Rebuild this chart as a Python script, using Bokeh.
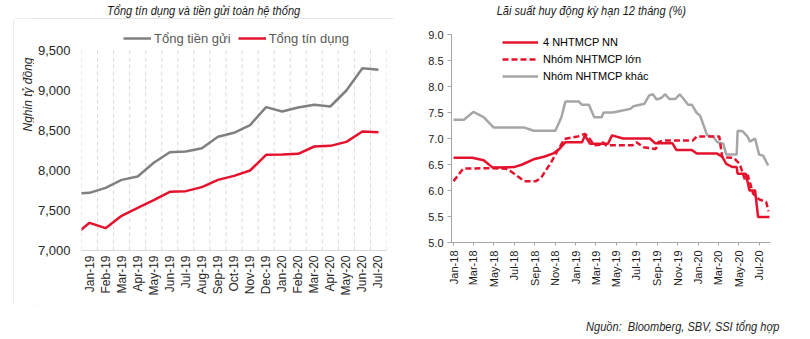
from math import pi
import pandas as pd
from bokeh.plotting import figure
from bokeh.layouts import row, column
from bokeh.models import (Range1d, FixedTicker, NumeralTickFormatter, DatetimeTickFormatter,
                          Legend, LegendItem, Label, Div)
from bokeh.embed import file_html
from bokeh.resources import INLINE

# ---------------- Left chart data ----------------
months_left = ["Dec-18", "Jan-19", "Feb-19", "Mar-19", "Apr-19", "May-19", "Jun-19", "Jul-19",
               "Aug-19", "Sep-19", "Oct-19", "Nov-19", "Dec-19", "Jan-20", "Feb-20", "Mar-20",
               "Apr-20", "May-20", "Jun-20", "Jul-20"]
tong_tien_gui = [7713, 7721, 7783, 7883, 7925, 8096, 8229, 8238, 8279, 8421, 8471, 8567,
                 8792, 8738, 8788, 8821, 8800, 9000, 9279, 9258]
tong_tin_dung = [7178, 7346, 7279, 7433, 7533, 7629, 7733, 7742, 7792, 7883, 7933, 8000,
                 8196, 8200, 8208, 8300, 8308, 8358, 8488, 8479]
left_yticks = [7000, 7500, 8000, 8500, 9000, 9500]

# ---------------- Right chart data ----------------
nn_dates = ["2018-01-01", "2018-02-26", "2018-04-01", "2018-04-28", "2018-07-01", "2018-07-25",
            "2018-08-28", "2018-09-28", "2018-10-28", "2018-11-13", "2018-12-01", "2019-01-20",
            "2019-01-28", "2019-02-12", "2019-04-07", "2019-04-19", "2019-05-22", "2019-08-10",
            "2019-08-25", "2019-10-16", "2019-10-28", "2019-12-13", "2019-12-28", "2020-02-27",
            "2020-03-13", "2020-03-25", "2020-04-13", "2020-04-25", "2020-04-28", "2020-05-22",
            "2020-05-28", "2020-06-02", "2020-06-19", "2020-06-28", "2020-08-01"]
nn_vals = [6.63, 6.63, 6.58, 6.44, 6.45, 6.50,
           6.60, 6.65, 6.72, 6.80, 6.93, 6.93,
           7.06, 6.90, 6.90, 7.06, 7.00, 7.00,
           6.91, 6.91, 6.78, 6.78, 6.71, 6.71,
           6.65, 6.51, 6.45, 6.45, 6.32, 6.32,
           6.16, 6.00, 6.00, 5.49, 5.49]

lon_dates = ["2018-01-01", "2018-01-30", "2018-04-22", "2018-06-07", "2018-06-25", "2018-08-01",
             "2018-09-04", "2018-09-19", "2018-10-19", "2018-11-07", "2018-11-28", "2019-01-07",
             "2019-01-28", "2019-02-07", "2019-02-25", "2019-03-16", "2019-03-22", "2019-04-01",
             "2019-06-19", "2019-07-01", "2019-07-22", "2019-08-28", "2019-09-04", "2019-09-19",
             "2019-12-16", "2019-12-28", "2020-03-04", "2020-03-13", "2020-04-16", "2020-05-04",
             "2020-05-19", "2020-05-28", "2020-06-13", "2020-07-01", "2020-07-22", "2020-07-29"]
lon_vals = [6.18, 6.42, 6.43, 6.42, 6.35, 6.18,
            6.18, 6.24, 6.54, 6.76, 6.99, 7.04,
            7.09, 7.03, 6.87, 6.88, 6.93, 6.87,
            6.87, 6.93, 6.83, 6.80, 6.93, 6.96,
            6.96, 7.04, 7.04, 6.64, 6.63, 6.51,
            6.22, 6.30, 5.94, 5.83, 5.78, 5.60]

khac_dates = ["2018-01-01", "2018-02-01", "2018-03-01", "2018-04-01", "2018-05-01", "2018-08-01",
              "2018-08-28", "2018-11-01", "2018-11-19", "2018-12-01", "2019-01-10", "2019-01-19",
              "2019-02-09", "2019-02-25", "2019-03-19", "2019-03-25", "2019-04-22", "2019-05-13",
              "2019-06-13", "2019-06-22", "2019-07-25", "2019-08-08", "2019-08-19", "2019-08-30",
              "2019-09-13", "2019-09-25", "2019-10-07", "2019-10-25", "2019-11-07", "2019-11-19",
              "2019-12-02", "2019-12-13", "2019-12-28", "2020-01-07", "2020-01-28", "2020-02-15",
              "2020-02-27", "2020-03-16", "2020-03-25", "2020-04-25", "2020-04-28", "2020-05-13",
              "2020-05-28", "2020-06-04", "2020-06-19", "2020-07-01", "2020-07-13", "2020-07-28"]
khac_vals = [7.36, 7.36, 7.51, 7.41, 7.21, 7.21,
             7.15, 7.15, 7.41, 7.71, 7.71, 7.65,
             7.65, 7.41, 7.41, 7.50, 7.50, 7.53,
             7.57, 7.62, 7.67, 7.83, 7.85, 7.75,
             7.78, 7.85, 7.76, 7.76, 7.85, 7.76,
             7.65, 7.65, 7.49, 7.44, 7.06, 7.04,
             6.93, 6.90, 6.69, 6.69, 7.15, 7.14,
             7.03, 6.94, 7.00, 6.69, 6.67, 6.48]

right_tick_labels = ["Jan-18", "Mar-18", "May-18", "Jul-18", "Sep-18", "Nov-18", "Jan-19",
                     "Mar-19", "May-19", "Jul-19", "Sep-19", "Nov-19", "Jan-20", "Mar-20",
                     "May-20", "Jul-20"]
right_yticks = [5.0, 5.5, 6.0, 6.5, 7.0, 7.5, 8.0, 8.5, 9.0]

left_title = "Tổng tín dụng và tiền gửi toàn hệ thống"
left_ylabel = "Nghin tỷ đồng"
right_title = "Lãi suất huy động kỳ hạn 12 tháng (%)"
source_note = "Nguồn:&nbsp; Bloomberg, SBV, SSI tổng hợp"

RED = "#e5122d"
GRAY_L = "#808080"
GRAY_R = "#a6a6a6"
FONT = "Liberation Sans"
CSS_FONT = "'Liberation Sans', Arial, sans-serif"


def text_div(txt, width, height, inner_width, align, pad_top, color="#1a1a1a"):
    html = (f'<div style="width:{inner_width}px; text-align:{align}; padding-top:{pad_top}px; '
            f'line-height:16px; font-family:{CSS_FONT}; font-style:italic; font-size:13px; '
            f'color:{color}; white-space:nowrap;">'
            f'<span style="display:inline-block; transform:scaleX(0.85); '
            f'transform-origin:{"right" if align == "right" else "center"};">{txt}</span></div>')
    return Div(text=html, width=width, height=height, margin=0)


# ================= Left: y-axis title strip =================
yfig = figure(width=21, height=288, output_backend="svg", toolbar_location=None,
              x_range=Range1d(0, 1), y_range=Range1d(0, 1), min_border=0,
              x_axis_location=None, y_axis_location=None)
yfig.frame_align = False
yfig.outline_line_color = None
yfig.grid.visible = False
yfig.add_layout(Label(x=14, y=212, x_units="screen", y_units="screen", angle=pi / 2,
                      text=left_ylabel, text_align="center", text_baseline="middle",
                      text_font=FONT, text_font_style="italic", text_font_size="12px",
                      text_color="#262626"))

# ================= Left figure =================
y_top = left_yticks[-1] + (left_yticks[-1] - left_yticks[0]) * 24 / 200
p1 = figure(width=361, height=288, output_backend="svg", toolbar_location=None,
            x_range=Range1d(0.5, 19.5), y_range=Range1d(left_yticks[0], y_top),
            min_border_left=44, min_border_right=9, min_border_top=8, min_border_bottom=56)
p1.frame_align = False
p1.outline_line_color = None
p1.grid.visible = False

x_idx = list(range(len(months_left)))
bounds = [i + 0.5 for i in x_idx]
p1.segment(x0=bounds, y0=[left_yticks[0]] * len(bounds), x1=bounds,
           y1=[left_yticks[-1]] * len(bounds), line_color="#d9d9d9", line_width=1,
           line_dash="4 3")
r_gui = p1.line(x_idx, tong_tien_gui, line_color=GRAY_L, line_width=2.5)
r_td = p1.line(x_idx, tong_tin_dung, line_color=RED, line_width=2.5)

p1.xaxis.ticker = FixedTicker(ticks=x_idx[1:])
p1.xaxis.major_label_overrides = {i: m for i, m in enumerate(months_left)}
p1.xaxis.major_label_orientation = pi / 2
p1.xaxis.axis_line_color = "#d9d9d9"
p1.xaxis.major_label_standoff = 5
p1.xaxis.major_label_text_font = FONT
p1.xaxis.major_label_text_font_size = "12px"
p1.xaxis.major_label_text_color = "#262626"

p1.yaxis.ticker = FixedTicker(ticks=left_yticks)
p1.yaxis.formatter = NumeralTickFormatter(format="0,0")
p1.yaxis.axis_line_color = None
p1.yaxis.major_label_standoff = 11
p1.yaxis.major_label_text_font = FONT
p1.yaxis.major_label_text_font_size = "13px"
p1.yaxis.major_label_text_color = "#262626"
for ax in (p1.xaxis, p1.yaxis):
    ax.major_tick_line_color = None
    ax.minor_tick_line_color = None
    ax.major_tick_in = 0
    ax.major_tick_out = 0
    ax.minor_tick_in = 0
    ax.minor_tick_out = 0

leg1 = Legend(items=[LegendItem(label="Tổng tiền gửi", renderers=[r_gui]),
                     LegendItem(label="Tổng tín dụng", renderers=[r_td])],
              orientation="horizontal", location=(42, 204), padding=0, margin=0, spacing=7,
              glyph_width=28, glyph_height=16, label_height=16, label_standoff=3,
              label_text_font=FONT, label_text_font_size="13px", label_text_color="#595959",
              border_line_color=None, background_fill_alpha=0)
p1.add_layout(leg1)

# ================= Right figure =================
def to_ms(seq):
    d = pd.to_datetime(seq)
    return [(t - pd.Timestamp("1970-01-01")) // pd.Timedelta(milliseconds=1) for t in d]

tick_ms = to_ms(pd.to_datetime(right_tick_labels, format="%b-%y"))

p2 = figure(width=405, height=292, output_backend="svg", toolbar_location=None,
            x_axis_type="datetime",
            x_range=Range1d(pd.Timestamp("2017-12-26"), pd.Timestamp("2020-08-04")),
            y_range=Range1d(5, 9),
            min_border_left=46, min_border_right=40, min_border_top=8, min_border_bottom=76)
p2.frame_align = False
p2.outline_line_color = None
r_khac = p2.line(pd.to_datetime(khac_dates), khac_vals, line_color=GRAY_R, line_width=2.5)
r_lon = p2.line(pd.to_datetime(lon_dates), lon_vals, line_color=RED, line_width=2.5,
                line_dash="6 3")
r_nn = p2.line(pd.to_datetime(nn_dates), nn_vals, line_color=RED, line_width=2.5)

fmt = "%b-%y"
p2.xaxis.ticker = FixedTicker(ticks=tick_ms)
p2.xaxis.formatter = DatetimeTickFormatter(days=fmt, months=fmt, years=fmt, hours=fmt,
                                           hourmin=fmt, minutes=fmt, minsec=fmt,
                                           seconds=fmt, milliseconds=fmt, microseconds=fmt)
p2.xaxis.major_label_orientation = pi / 2
p2.xaxis.major_tick_in = 0
p2.xaxis.major_tick_out = 3
p2.xaxis.major_label_standoff = 5
p2.yaxis.ticker = FixedTicker(ticks=right_yticks)
p2.yaxis.formatter = NumeralTickFormatter(format="0.0")
p2.yaxis.major_tick_in = 0
p2.yaxis.major_tick_out = 4
p2.yaxis.major_label_standoff = 4
for ax in (p2.xaxis, p2.yaxis):
    ax.axis_line_color = GRAY_R
    ax.major_tick_line_color = GRAY_R
    ax.minor_tick_line_color = None
    ax.minor_tick_in = 0
    ax.minor_tick_out = 0
    ax.major_label_text_font = FONT
    ax.major_label_text_font_size = "11px"
    ax.major_label_text_color = "#1a1a1a"
p2.xgrid.visible = False
p2.ygrid.visible = False

leg2 = Legend(items=[LegendItem(label="4 NHTMCP NN", renderers=[r_nn]),
                     LegendItem(label="Nhóm NHTMCP lớn", renderers=[r_lon]),
                     LegendItem(label="Nhóm NHTMCP khác", renderers=[r_khac])],
              orientation="vertical", location=(51, 158), padding=0, margin=0, spacing=1,
              glyph_width=36, glyph_height=16, label_height=16, label_standoff=5,
              label_text_font=FONT, label_text_font_size="11px", label_text_color="#000000",
              border_line_color=None, background_fill_alpha=0)
p2.add_layout(leg2)

# ================= Titles, note and layout =================
t1 = text_div(left_title, 405, 18, 408, "center", 3)
t2 = text_div(right_title, 405, 26, 372, "center", 3)
note = text_div(source_note, 405, 21, 374, "right", 1, color="#262626")

left_box = row(yfig, p1, spacing=0, margin=(0, 10, 33, 13),
               styles={"outline": "1px solid #d9d9d9", "outline-offset": "-1px",
                       "border-radius": "3px"})
left_col = column(t1, left_box, spacing=0)
right_col = column(t2, p2, note, spacing=0)
layout = row(left_col, right_col, spacing=0)
open("out.html", "w").write(file_html(layout, INLINE))
